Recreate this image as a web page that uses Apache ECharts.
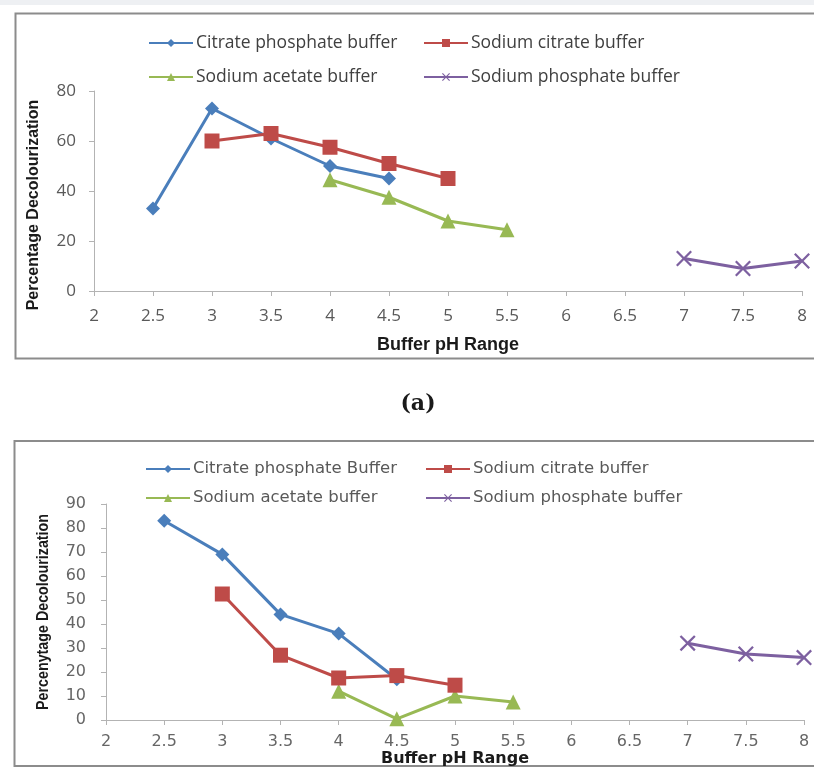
<!DOCTYPE html>
<html>
<head>
<meta charset="utf-8">
<script src="https://cdn.jsdelivr.net/npm/echarts@6/dist/echarts.min.js"></script>
<style>
  html, body { margin: 0; padding: 0; background: #fff; }
  #chart { width: 814px; height: 769px; }
</style>
</head>
<body>
<div id="chart"></div>
<script>
// pH values for each buffer
var phCitPhos = [2.5, 3, 3.5, 4, 4.5];
var phSodCit = [3, 3.5, 4, 4.5, 5];
var phSodAc = [4, 4.5, 5, 5.5];
var phSodPhos = [7, 7.5, 8];

// chart (a)
var aCitPhos = [33, 73, 61, 50, 45];
var aSodCit = [60, 63, 57.5, 51, 45];
var aSodAc = [44.5, 37.5, 28, 24.5];
var aSodPhos = [13, 9, 12];

// chart (b)
var bCitPhos = [83, 69, 44, 36, 17];
var bSodCit = [52.5, 27, 17.5, 18.5, 14.5];
var bSodAc = [12, 0.5, 10, 7.5];
var bSodPhos = [32, 27.5, 26];

var namesA = ['Citrate phosphate buffer', 'Sodium citrate buffer', 'Sodium acetate buffer', 'Sodium phosphate buffer'];
var namesB = ['Citrate phosphate Buffer', 'Sodium citrate buffer ', 'Sodium acetate buffer ', 'Sodium phosphate buffer '];

var colors = ['#4A7EBB', '#BE4B48', '#98B954', '#7D60A0'];
var symbols = ['diamond', 'rect', 'triangle', 'path://M0,1L1,0L5,4L9,0L10,1L6,5L10,9L9,10L5,6L1,10L0,9L4,5Z'];
var symbolSizes = [14, 15, 15, 16];

function pairs(xs, ys) {
    return xs.map(function (x, i) { return [x, ys[i]]; });
}

var phs = [phCitPhos, phSodCit, phSodAc, phSodPhos];
var valsA = [aCitPhos, aSodCit, aSodAc, aSodPhos];
var valsB = [bCitPhos, bSodCit, bSodAc, bSodPhos];

var series = [];
[valsA, valsB].forEach(function (vals, g) {
    var names = g === 0 ? namesA : namesB;
    vals.forEach(function (v, i) {
        series.push({
            name: names[i],
            type: 'line',
            xAxisIndex: g,
            yAxisIndex: g,
            data: pairs(phs[i], v),
            symbol: symbols[i],
            symbolSize: symbolSizes[i],
            showAllSymbol: true,
            clip: false,
            lineStyle: { color: colors[i], width: 3 },
            itemStyle: { color: colors[i] },
            z: 3 + (i === 1 ? 1 : 0)
        });
    });
});

// legend placement, one legend per item
var legendPos = [
    [148, 43, 0, 0], [423, 43, 0, 1], [148, 77, 0, 2], [423, 77, 0, 3],
    [145, 469, 1, 0], [425, 469, 1, 1], [145, 498, 1, 2], [425, 498, 1, 3]
];
var legends = legendPos.map(function (p) {
    var top = p[2] === 0;
    return {
        left: p[0],
        top: p[1] - 10,
        padding: 0,
        itemWidth: 44,
        itemHeight: 10,
        itemGap: 0,
        selectedMode: false,
        data: [(top ? namesA : namesB)[p[3]]],
        textStyle: top
            ? { fontFamily: 'Open Sans', fontSize: 17.5, lineHeight: 20, color: '#404040', padding: [0, 0, 0, -2] }
            : { fontFamily: 'DejaVu Sans', fontSize: 16.5, lineHeight: 20, color: '#595959', padding: [0, 0, 0, -2] }
    };
});

var axisLine = { show: true, lineStyle: { color: '#B3B3B3', width: 1 } };
var axisTick = { show: true, length: 5, lineStyle: { color: '#B3B3B3' } };

var weChart = echarts.init(document.getElementById('chart'));
var option = {
    animation: false,
    backgroundColor: '#fff',
    legend: legends,
    grid: [
        { left: 94, right: 12, top: 91, bottom: 478 },
        { left: 106, right: 10, top: 504, bottom: 49 }
    ],
    xAxis: [
        {
            type: 'value', gridIndex: 0, min: 2, max: 8, interval: 0.5,
            axisLine: axisLine, axisTick: axisTick, splitLine: { show: false },
            axisLabel: { margin: 17, fontFamily: 'Open Sans', fontSize: 17, color: '#595959' },
            name: 'Buffer pH Range', nameLocation: 'middle', nameGap: 45,
            nameTextStyle: { fontFamily: 'Liberation Sans', fontWeight: 'bold', fontSize: 18, color: '#1a1a1a' }
        },
        {
            type: 'value', gridIndex: 1, min: 2, max: 8, interval: 0.5,
            axisLine: axisLine, axisTick: axisTick, splitLine: { show: false },
            axisLabel: { margin: 14, fontFamily: 'DejaVu Sans', fontSize: 16, color: '#666666' },
            name: 'Buffer pH Range', nameLocation: 'middle', nameGap: 29,
            nameTextStyle: { fontFamily: 'DejaVu Sans', fontWeight: 'bold', fontSize: 16, color: '#1a1a1a' }
        }
    ],
    yAxis: [
        {
            type: 'value', gridIndex: 0, min: 0, max: 80, interval: 20,
            axisLine: axisLine, axisTick: axisTick, splitLine: { show: false },
            axisLabel: { margin: 18, fontFamily: 'Open Sans', fontSize: 17, color: '#595959' }
        },
        {
            type: 'value', gridIndex: 1, min: 0, max: 90, interval: 10,
            axisLine: axisLine, axisTick: axisTick, splitLine: { show: false },
            axisLabel: { margin: 20, fontFamily: 'DejaVu Sans', fontSize: 16, color: '#666666' }
        }
    ],
    graphic: [
        { type: 'rect', shape: { x: 0, y: 0, width: 814, height: 5 }, style: { fill: '#EEF0F3' }, silent: true },
        { type: 'rect', shape: { x: 15.5, y: 13.5, width: 820, height: 345 }, style: { fill: null, stroke: '#8C8C8C', lineWidth: 2 }, silent: true, z: -1 },
        { type: 'rect', shape: { x: 14.5, y: 441, width: 820, height: 325 }, style: { fill: null, stroke: '#8C8C8C', lineWidth: 2 }, silent: true, z: -1 },
        { type: 'text', x: 418, y: 404, style: { text: '(a)', font: 'bold 22px "DejaVu Serif"', fill: '#1a1a1a', align: 'center', verticalAlign: 'middle' }, silent: true },
        // y axis titles
        { type: 'text', x: 34, y: 205, rotation: Math.PI / 2, style: { text: 'Percentage Decolourization', font: 'bold 16px "Liberation Sans"', fill: '#1a1a1a', align: 'center', verticalAlign: 'middle' }, silent: true },
        { type: 'text', x: 43, y: 612, rotation: Math.PI / 2, scaleX: 0.84, style: { text: 'Percenytage Decolourization', font: 'bold 17px "Liberation Sans"', fill: '#1a1a1a', align: 'center', verticalAlign: 'middle' }, silent: true }
    ],
    series: series
};
weChart.setOption(option, true);
</script>
</body>
</html>
